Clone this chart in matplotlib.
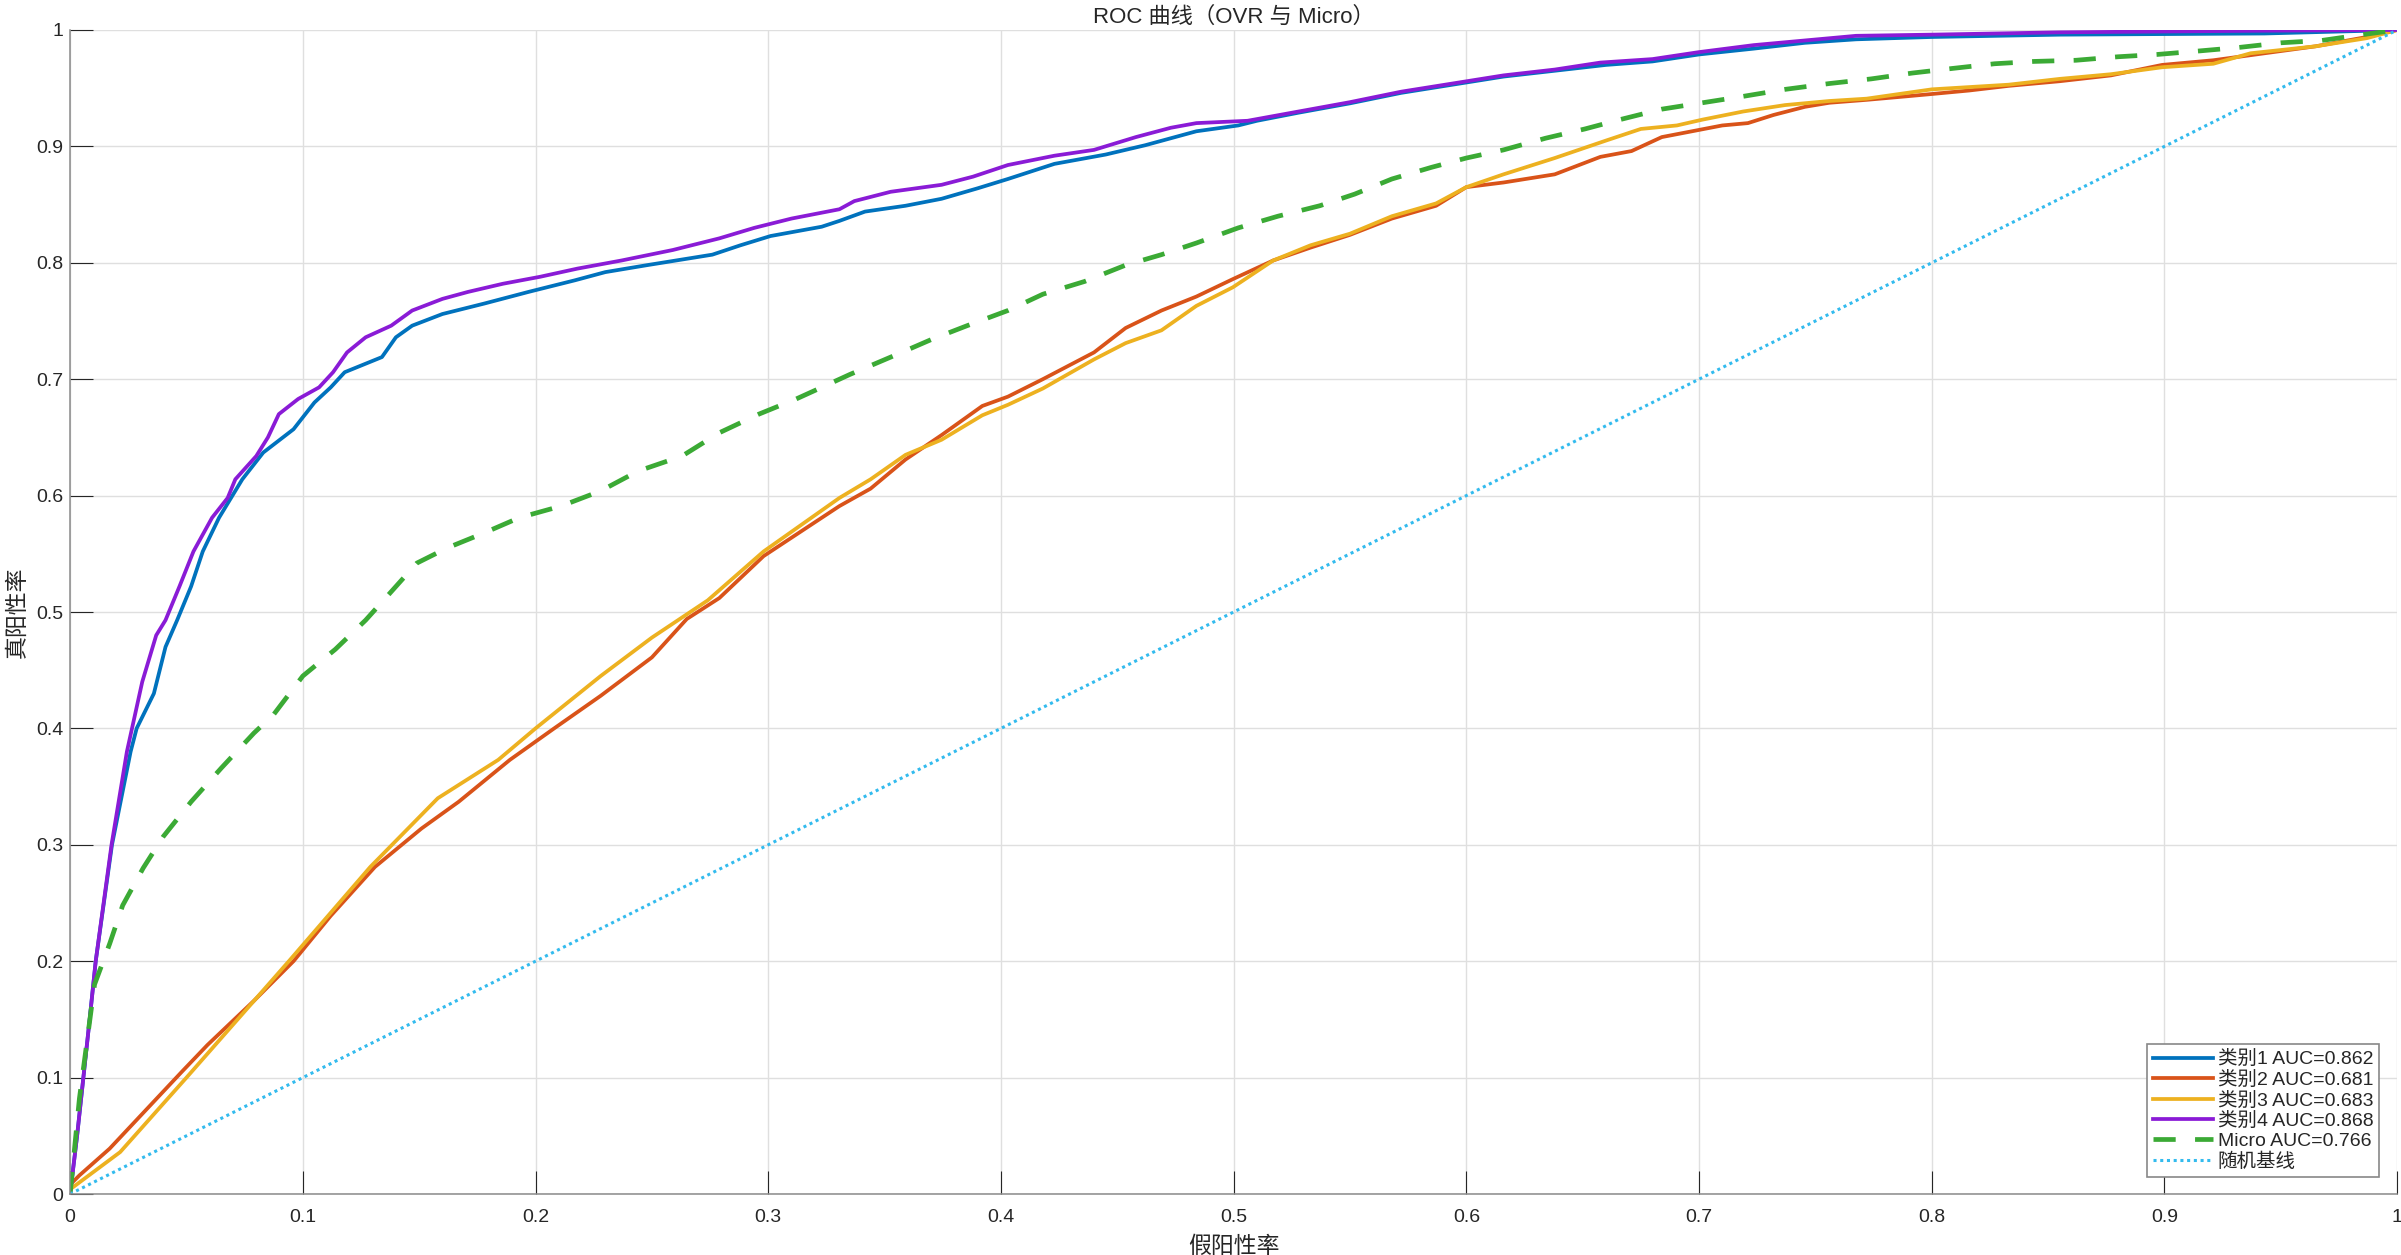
import matplotlib
matplotlib.use("Agg")
import matplotlib.pyplot as plt
from matplotlib.ticker import FuncFormatter

plt.rcParams['font.family'] = ['Liberation Sans', 'Noto Sans CJK SC', 'DejaVu Sans']

# ROC points
fpr_c1 = [0, 0.003, 0.0084, 0.011, 0.018, 0.026, 0.0286, 0.036, 0.041, 0.046, 0.052, 0.057, 0.064, 0.074,
          0.083, 0.096, 0.105, 0.112, 0.118, 0.134, 0.14, 0.147, 0.16, 0.178, 0.197, 0.217, 0.23, 0.248,
          0.276, 0.288, 0.301, 0.323, 0.3306, 0.3416, 0.359, 0.3745, 0.39, 0.403, 0.423, 0.445, 0.462,
          0.484, 0.502, 0.51, 0.528, 0.55, 0.572, 0.594, 0.616, 0.638, 0.66, 0.68, 0.7, 0.7235, 0.7455,
          0.7675, 0.8, 0.855, 0.943, 1.0]
tpr_c1 = [0, 0.05, 0.15, 0.2, 0.3, 0.38, 0.4, 0.43, 0.47, 0.493, 0.522, 0.552, 0.581, 0.614,
          0.637, 0.657, 0.68, 0.693, 0.706, 0.719, 0.736, 0.746, 0.756, 0.765, 0.775, 0.785, 0.792, 0.798,
          0.807, 0.815, 0.823, 0.831, 0.836, 0.844, 0.849, 0.855, 0.864, 0.872, 0.885, 0.893, 0.901,
          0.913, 0.918, 0.922, 0.929, 0.937, 0.946, 0.953, 0.96, 0.965, 0.97, 0.973, 0.979, 0.984, 0.989,
          0.992, 0.994, 0.996, 0.997, 1.0]

fpr_c2 = [0, 0.004, 0.017, 0.0325, 0.048, 0.059, 0.079, 0.096, 0.112, 0.131, 0.151, 0.167, 0.189, 0.208,
          0.228, 0.25, 0.265, 0.279, 0.298, 0.3306, 0.344, 0.359, 0.3745, 0.392, 0.403, 0.418, 0.44,
          0.4536, 0.469, 0.484, 0.4997, 0.517, 0.533, 0.55, 0.568, 0.587, 0.6, 0.616, 0.638, 0.6576,
          0.671, 0.684, 0.697, 0.71, 0.721, 0.732, 0.7455, 0.756, 0.772, 0.789, 0.8, 0.816, 0.833, 0.855,
          0.877, 0.899, 0.921, 0.943, 0.965, 0.987, 1.0]
tpr_c2 = [0.008, 0.016, 0.039, 0.072, 0.105, 0.128, 0.166, 0.2, 0.239, 0.281, 0.314, 0.337, 0.373, 0.4,
          0.428, 0.461, 0.494, 0.512, 0.548, 0.591, 0.606, 0.631, 0.652, 0.677, 0.685, 0.7, 0.723,
          0.744, 0.759, 0.771, 0.786, 0.802, 0.813, 0.824, 0.838, 0.849, 0.865, 0.869, 0.876, 0.891,
          0.896, 0.908, 0.913, 0.918, 0.92, 0.927, 0.934, 0.9375, 0.94, 0.943, 0.945, 0.948, 0.952, 0.956,
          0.961, 0.97, 0.974, 0.98, 0.986, 0.994, 1.0]

fpr_c3 = [0, 0.0215, 0.05, 0.094, 0.129, 0.158, 0.184, 0.2, 0.228, 0.25, 0.274, 0.298, 0.3306, 0.344,
          0.359, 0.3745, 0.392, 0.403, 0.418, 0.44, 0.4536, 0.469, 0.484, 0.4997, 0.517, 0.533, 0.55,
          0.568, 0.587, 0.6, 0.616, 0.638, 0.66, 0.675, 0.6905, 0.7015, 0.719, 0.737, 0.756, 0.772, 0.8,
          0.833, 0.855, 0.877, 0.899, 0.921, 0.937, 0.965, 0.987, 1.0]
tpr_c3 = [0.004, 0.036, 0.1, 0.2, 0.281, 0.34, 0.373, 0.4, 0.445, 0.478, 0.51, 0.552, 0.598, 0.614,
          0.635, 0.648, 0.669, 0.678, 0.692, 0.717, 0.731, 0.742, 0.763, 0.779, 0.802, 0.815, 0.825,
          0.84, 0.851, 0.865, 0.876, 0.89, 0.905, 0.915, 0.918, 0.923, 0.93, 0.9355, 0.939, 0.941, 0.949,
          0.953, 0.958, 0.962, 0.968, 0.971, 0.98, 0.986, 0.993, 1.0]

fpr_c4 = [0, 0.003, 0.0084, 0.011, 0.0178, 0.0244, 0.0266, 0.031, 0.037, 0.041, 0.047, 0.053, 0.061,
          0.0677, 0.071, 0.08, 0.085, 0.0897, 0.098, 0.107, 0.113, 0.119, 0.127, 0.138, 0.147, 0.16, 0.171,
          0.186, 0.202, 0.218, 0.237, 0.259, 0.279, 0.294, 0.31, 0.3306, 0.337, 0.3526, 0.3745, 0.388,
          0.403, 0.423, 0.44, 0.458, 0.473, 0.484, 0.506, 0.528, 0.55, 0.572, 0.594, 0.616, 0.638, 0.6576,
          0.68, 0.7, 0.7235, 0.7455, 0.7675, 0.8, 0.855, 0.943, 1.0]
tpr_c4 = [0, 0.05, 0.15, 0.2, 0.3, 0.38, 0.4, 0.44, 0.48, 0.493, 0.522, 0.552, 0.581,
          0.598, 0.614, 0.634, 0.65, 0.67, 0.683, 0.693, 0.706, 0.723, 0.736, 0.746, 0.759, 0.769, 0.775,
          0.782, 0.788, 0.795, 0.802, 0.811, 0.821, 0.83, 0.838, 0.846, 0.853, 0.861, 0.867, 0.874,
          0.884, 0.892, 0.897, 0.908, 0.916, 0.92, 0.922, 0.93, 0.938, 0.947, 0.954, 0.961, 0.966, 0.972,
          0.975, 0.981, 0.987, 0.991, 0.995, 0.996, 0.998, 0.9994, 1.0]

fpr_micro = [0, 0.004, 0.0105, 0.017, 0.0226, 0.0314, 0.04, 0.052, 0.065, 0.079, 0.0875, 0.1, 0.114,
             0.127, 0.136, 0.149, 0.162, 0.178, 0.193, 0.211, 0.228, 0.244, 0.263, 0.279, 0.296, 0.312,
             0.323, 0.335, 0.355, 0.37, 0.3855, 0.403, 0.418, 0.436, 0.4536, 0.469, 0.484, 0.502, 0.519,
             0.537, 0.552, 0.568, 0.585, 0.6, 0.616, 0.634, 0.651, 0.666, 0.684, 0.7015, 0.719, 0.737,
             0.756, 0.774, 0.7916, 0.809, 0.827, 0.844, 0.862, 0.88, 0.897, 0.915, 0.932, 0.95, 0.9675,
             0.985, 1.0]
tpr_micro = [0, 0.082, 0.18, 0.215, 0.248, 0.28, 0.307, 0.337, 0.366, 0.396, 0.412, 0.445, 0.468,
             0.493, 0.513, 0.542, 0.555, 0.568, 0.581, 0.591, 0.604, 0.621, 0.634, 0.654, 0.67, 0.683,
             0.693, 0.704, 0.721, 0.734, 0.746, 0.759, 0.773, 0.784, 0.798, 0.807, 0.817, 0.83, 0.84,
             0.849, 0.859, 0.872, 0.882, 0.89, 0.897, 0.907, 0.915, 0.923, 0.932, 0.9375, 0.943, 0.949,
             0.954, 0.958, 0.963, 0.967, 0.971, 0.973, 0.974, 0.977, 0.979, 0.982, 0.985, 0.989, 0.991,
             0.996, 1.0]

base_x = [0, 1]
base_y = [0, 1]

class_auc = [0.862, 0.681, 0.683, 0.868]
micro_auc = 0.766
ticks = [0, 0.1, 0.2, 0.3, 0.4, 0.5, 0.6, 0.7, 0.8, 0.9, 1.0]

colors = ['#0072BD', '#D95319', '#EDB120', '#8A1BD6']
green = '#3BAA35'
cyan = '#33BBEE'
text_col = '#262626'

fig = plt.figure(figsize=(24.01, 12.55), dpi=100)
ax = fig.add_axes([0.0292, 0.0486, 0.9692, 0.9275])

curves = [(fpr_c1, tpr_c1), (fpr_c2, tpr_c2), (fpr_c3, tpr_c3), (fpr_c4, tpr_c4)]
for i, (fx, ty) in enumerate(curves):
    ax.plot(fx, ty, color=colors[i], lw=2.7, solid_joinstyle='round',
            label=f"类别{i + 1} AUC={class_auc[i]:.3f}")
ax.plot(fpr_micro, tpr_micro, color=green, lw=3.4, dashes=(4.7, 4.1),
        label=f"Micro AUC={micro_auc:.3f}")
ax.plot(base_x, base_y, color=cyan, lw=2.2, linestyle=(0, (1, 1.2)), label="随机基线")

ax.set_xlim(0, 1)
ax.set_ylim(0, 1)
ax.set_xticks(ticks)
ax.set_yticks(ticks)
fmt = FuncFormatter(lambda v, p: f"{v:g}")
ax.xaxis.set_major_formatter(fmt)
ax.yaxis.set_major_formatter(fmt)
ax.grid(True, color='#dfdfdf', lw=1.0)
ax.set_axisbelow(True)

for s in ['top', 'right']:
    ax.spines[s].set_visible(False)
for s in ['left', 'bottom']:
    ax.spines[s].set_color('#8a8a8a')
    ax.spines[s].set_linewidth(1.1)

ax.tick_params(axis='both', direction='in', length=16.5, width=0.8, color=text_col,
               labelsize=14, labelcolor=text_col)
ax.tick_params(axis='x', pad=10.8)
ax.tick_params(axis='y', pad=5)

ax.set_title("ROC 曲线（OVR 与 Micro）", fontsize=16, color=text_col, pad=5)
ax.set_xlabel("假阳性率", fontsize=16.5, color=text_col, labelpad=6.5)
ax.set_ylabel("真阳性率", fontsize=16.5, color=text_col, labelpad=5)

leg = ax.legend(loc='lower right', bbox_to_anchor=(0.9923, 0.0146), borderaxespad=0,
                fontsize=14, handlelength=3.1, handletextpad=0.25, labelspacing=0.13,
                borderpad=0.3, fancybox=False, framealpha=1, edgecolor='#888888')
leg.get_frame().set_linewidth(1.2)
for t in leg.get_texts():
    t.set_color(text_col)

fig.savefig("out.png", dpi=100)
